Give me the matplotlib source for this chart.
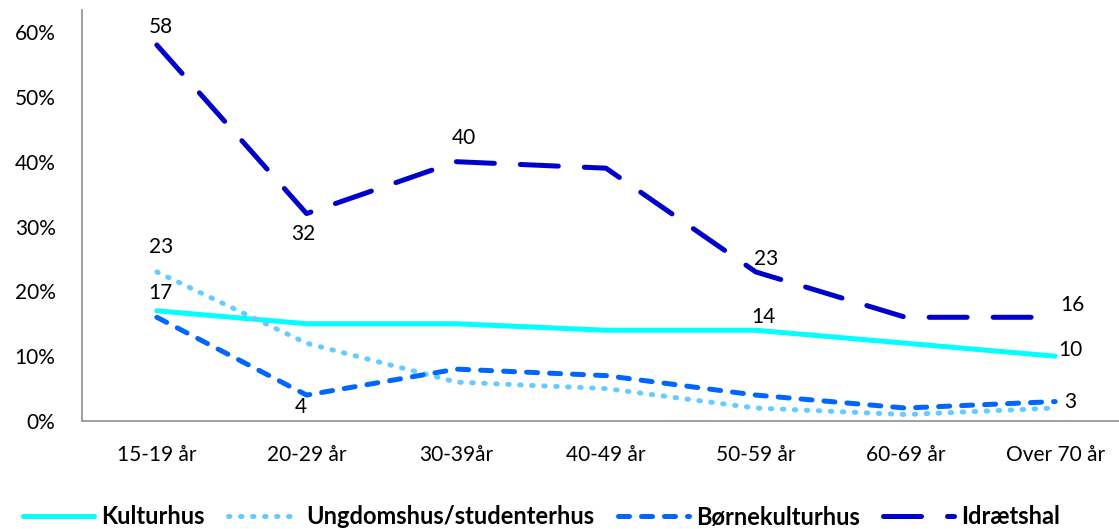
import numpy as np
from matplotlib import pyplot as plt

# Andel (%) fordelt på aldersgrupper
categories = ['15-19 år', '20-29 år', '30-39år', '40-49 år', '50-59 år', '60-69 år', 'Over 70 år']
kulturhus = [17, 15, 15, 14, 14, 12, 10]
ungdomshus = [23, 12, 6, 5, 2, 1, 2]
boernekulturhus = [16, 4, 8, 7, 4, 2, 3]
idraetshal = [58, 32, 40, 39, 23, 16, 16]
yticks = [0, 10, 20, 30, 40, 50, 60]

plt.rcParams['font.family'] = ['Lato', 'DejaVu Sans']

W, H = 1119, 529
fig = plt.figure(figsize=(W / 100, H / 100), dpi=100)
# plot area runs a bit past the right edge, like the original
ax = fig.add_axes([82 / W, 108 / H, 1048 / W, 411 / H])

x = np.arange(len(categories))
lw = 3.6
ax.plot(x, kulturhus, color='#00FFFF', lw=lw, label='Kulturhus', solid_capstyle='round')
ax.plot(x, ungdomshus, color='#66CCFF', lw=lw, ls=(0, (0.3, 2.1)), dash_capstyle='round',
        label='Ungdomshus/studenterhus')
ax.plot(x, boernekulturhus, color='#0066FF', lw=lw, ls=(0, (2.2, 2.4)), dash_capstyle='round',
        label='Børnekulturhus')
ax.plot(x, idraetshal, color='#0000CC', lw=lw, ls=(0, (7.6, 5.2)), dash_capstyle='round',
        label='Idrætshal')

# data labels (offsets in pixels)
fs = 15
def lab(i, vals, dx, dy, ha='center'):
    ax.annotate(str(vals[i]), (x[i], vals[i]), xytext=(dx, dy), textcoords='offset pixels',
                ha=ha, va='center', fontsize=fs)

lab(0, idraetshal, 4, 18)
lab(1, idraetshal, -3, -20)
lab(2, idraetshal, 8, 24)
lab(4, idraetshal, 10, 13)
lab(6, idraetshal, 17, 12)
lab(0, ungdomshus, 4, 25)
lab(0, kulturhus, 4, 18)
lab(4, kulturhus, 8, 13)
lab(6, kulturhus, 15, 6)
lab(1, boernekulturhus, -6, -12)
lab(6, boernekulturhus, 15, 0)

ax.set_xlim(-0.5, 6.5)
ax.set_ylim(0, 63.4)
ax.set_xticks(x)
ax.set_xticklabels(categories, fontsize=fs)
ax.set_yticks(yticks)
ax.set_yticklabels([f'{v}%' for v in yticks], fontsize=fs)
ax.tick_params(axis='x', length=0, pad=17)
ax.tick_params(axis='y', length=0, pad=19)
for s in ['top', 'right']:
    ax.spines[s].set_visible(False)
for s in ['left', 'bottom']:
    ax.spines[s].set_color('#999999')
    ax.spines[s].set_linewidth(1.3)

fig.legend(loc='center', bbox_to_anchor=(0.484, 12 / H), ncol=4, frameon=False,
           prop={'weight': 'bold', 'size': 17}, handlelength=3.0, columnspacing=1.0,
           handletextpad=0.3, borderpad=0)

fig.savefig('out.png', dpi=100)
